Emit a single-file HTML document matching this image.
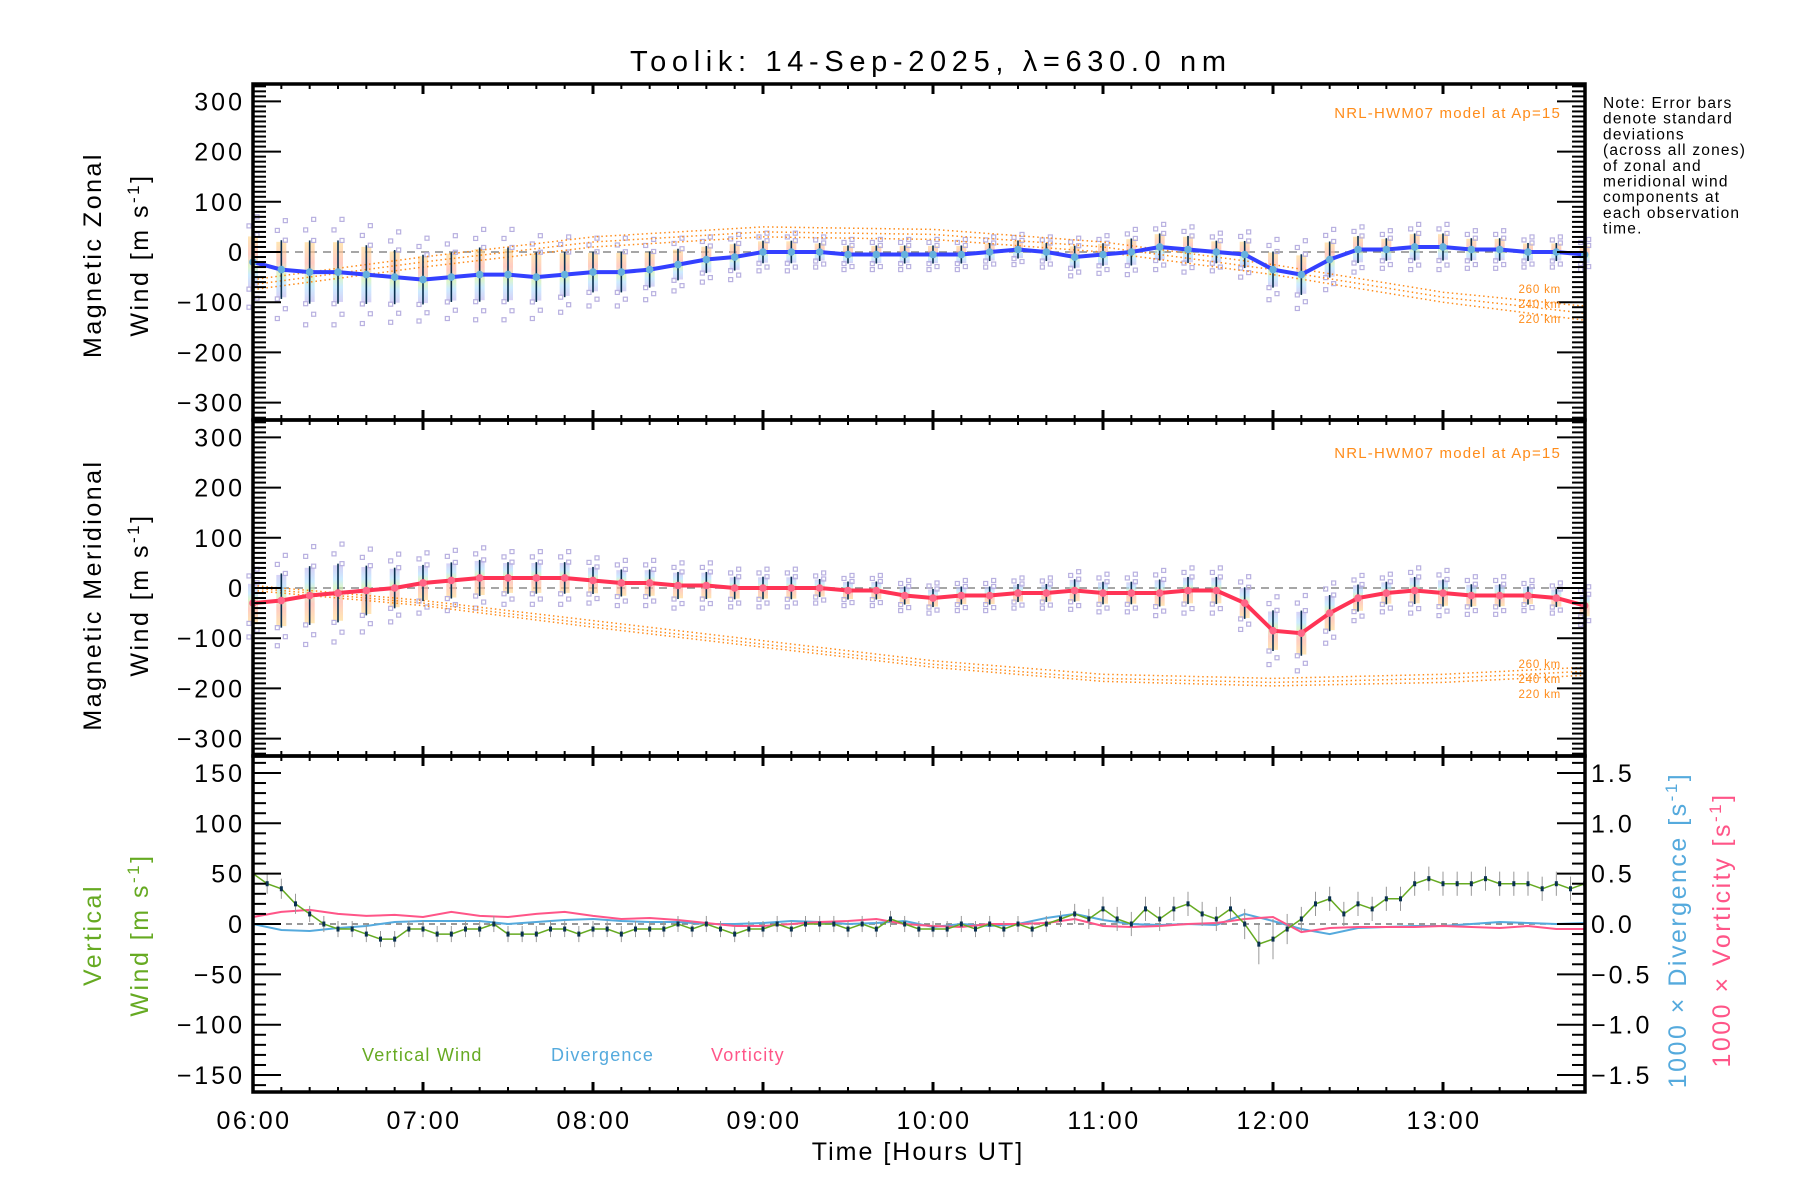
<!DOCTYPE html>
<html><head><meta charset="utf-8"><style>
html,body{margin:0;padding:0;background:#fff;}
svg{display:block;font-family:"Liberation Sans",sans-serif;}
</style></head><body>
<svg id="chart" width="1800" height="1200" viewBox="0 0 1800 1200" xmlns="http://www.w3.org/2000/svg">
<defs>
<linearGradient id="rb" x1="0" y1="0" x2="0" y2="1">
<stop offset="0" stop-color="#ffd88a"/><stop offset="0.35" stop-color="#ffb0a0"/><stop offset="0.6" stop-color="#c8f0b0"/><stop offset="0.75" stop-color="#b0e0ff"/><stop offset="1" stop-color="#c0b8f0"/>
</linearGradient>
<linearGradient id="rb2" x1="0" y1="1" x2="0" y2="0">
<stop offset="0" stop-color="#ffd88a"/><stop offset="0.35" stop-color="#ffb0a0"/><stop offset="0.6" stop-color="#c8f0b0"/><stop offset="0.75" stop-color="#b0e0ff"/><stop offset="1" stop-color="#c0b8f0"/>
</linearGradient>
</defs>
<text x="928" y="71" font-size="29" text-anchor="middle" textLength="596" lengthAdjust="spacing">Toolik: 14-Sep-2025, λ=630.0 nm</text>
<g id="g"></g>
<text font-size="15.5" x="1603" y="108" letter-spacing="1.2">
<tspan x="1603" dy="0">Note: Error bars</tspan><tspan x="1603" dy="15.7">denote standard</tspan><tspan x="1603" dy="15.7">deviations</tspan><tspan x="1603" dy="15.7">(across all zones)</tspan><tspan x="1603" dy="15.7">of zonal and</tspan><tspan x="1603" dy="15.7">meridional wind</tspan><tspan x="1603" dy="15.7">components at</tspan><tspan x="1603" dy="15.7">each observation</tspan><tspan x="1603" dy="15.7">time.</tspan></text>
<g letter-spacing="2.5">
<text font-size="25" transform="translate(101,255) rotate(-90)" text-anchor="middle">Magnetic Zonal</text>
<text font-size="25" transform="translate(148,255) rotate(-90)" text-anchor="middle">Wind [m s<tspan dy="-9" font-size="17">-1</tspan><tspan dy="9">]</tspan></text>
<text font-size="25" transform="translate(101,595) rotate(-90)" text-anchor="middle">Magnetic Meridional</text>
<text font-size="25" transform="translate(148,595) rotate(-90)" text-anchor="middle">Wind [m s<tspan dy="-9" font-size="17">-1</tspan><tspan dy="9">]</tspan></text>
<text font-size="25" fill="#66aa22" transform="translate(101,935) rotate(-90)" text-anchor="middle">Vertical</text>
<text font-size="25" fill="#66aa22" transform="translate(148,935) rotate(-90)" text-anchor="middle">Wind [m s<tspan dy="-9" font-size="17">-1</tspan><tspan dy="9">]</tspan></text>
<text font-size="25" fill="#55aadd" transform="translate(1686,930) rotate(-90)" text-anchor="middle">1000 × Divergence [s<tspan dy="-9" font-size="17">-1</tspan><tspan dy="9">]</tspan></text>
<text font-size="25" fill="#ff5588" transform="translate(1730,930) rotate(-90)" text-anchor="middle">1000 × Vorticity [s<tspan dy="-9" font-size="17">-1</tspan><tspan dy="9">]</tspan></text>
<text font-size="25" x="918" y="1160" text-anchor="middle" letter-spacing="2">Time [Hours UT]</text>
</g>
<g letter-spacing="1.2">
<text font-size="18" fill="#66aa22" x="362" y="1061">Vertical Wind</text>
<text font-size="18" fill="#55aadd" x="551" y="1061">Divergence</text>
<text font-size="18" fill="#ff5588" x="711" y="1061">Vorticity</text>
<text font-size="15" fill="#ff8c1a" x="1561" y="118" text-anchor="end">NRL-HWM07 model at Ap=15</text>
<text font-size="15" fill="#ff8c1a" x="1561" y="458" text-anchor="end">NRL-HWM07 model at Ap=15</text>
</g>
<g font-size="11.5" fill="#ff8c1a" text-anchor="end" letter-spacing="0.8">
<text x="1561" y="293">260 km</text>
<text x="1561" y="308">240 km</text>
<text x="1561" y="323">220 km</text>
<text x="1561" y="668">260 km</text>
<text x="1561" y="683">240 km</text>
<text x="1561" y="698">220 km</text>
</g>
</svg>
<script>
// ---- data (10-min steps from 06:00 UT) ----
const zonal = [-20,-35,-40,-40,-45,-50,-55,-50,-45,-45,-50,-45,-40,-40,-35,-25,-15,-10,0,0,0,-5,-5,-5,-5,-5,0,5,0,-10,-5,0,10,5,0,-5,-35,-45,-15,5,5,10,10,5,5,0,0,-5];
const zonalSd = [60,65,70,70,65,60,55,55,60,60,55,50,45,45,40,35,30,30,25,25,20,20,20,20,20,20,20,20,20,25,25,30,30,30,25,30,40,45,40,30,25,30,30,25,25,20,20,20];
const merid = [-30,-25,-15,-10,-5,0,10,15,20,20,20,20,15,10,10,5,5,0,0,0,0,-5,-5,-15,-20,-15,-15,-10,-10,-5,-10,-10,-10,-5,-5,-30,-85,-90,-50,-20,-10,-5,-10,-15,-15,-15,-20,-35];
const meridSd = [45,60,65,65,55,45,40,40,40,35,35,35,30,30,30,30,30,25,25,25,20,20,20,20,20,20,20,20,20,25,25,25,30,30,30,35,45,50,40,30,25,30,30,25,25,20,20,25];
// HWM model, hourly 06..14 UT
const hwmHours = [0,1,2,3,4,5,6,7,8];
const hwmZ260 = [-55,-10,30,50,45,20,-25,-80,-108];
const hwmZ240 = [-65,-20,20,40,35,10,-35,-90,-122];
const hwmZ220 = [-75,-30,10,30,25,0,-45,-100,-136];
const hwmM260 = [5,-25,-65,-105,-145,-172,-180,-172,-158];
const hwmM240 = [0,-30,-72,-112,-152,-180,-188,-180,-166];
const hwmM220 = [-5,-35,-78,-118,-158,-186,-195,-188,-174];
// vertical wind, 5-min steps
const vert = [50,40,35,20,10,0,-5,-5,-10,-15,-15,-5,-5,-10,-10,-5,-5,0,-10,-10,-10,-5,-5,-10,-5,-5,-10,-5,-5,-5,0,-5,0,-5,-10,-5,-5,0,-5,0,0,0,-5,0,-5,5,0,-5,-5,-5,0,-5,0,-5,0,-5,0,5,10,5,15,5,0,15,5,15,20,10,5,15,0,-20,-15,-5,5,20,25,10,20,15,25,25,40,45,40,40,40,45,40,40,40,35,40,35,40];
const vertSd = [10,10,10,10,8,8,8,8,8,8,8,8,8,8,8,8,8,8,8,8,8,8,8,8,8,8,8,8,8,8,8,8,8,8,8,8,8,8,8,8,8,8,8,8,8,8,8,8,8,8,8,8,8,8,8,8,8,8,10,10,12,12,12,12,12,12,12,12,12,12,15,20,20,15,12,12,12,12,12,12,12,12,12,12,12,12,12,12,12,12,12,12,12,12,12];
// divergence & vorticity (x1000), 10-min steps
const diverg = [0,-0.06,-0.07,-0.04,-0.02,0.02,0.03,0.03,0.03,0.0,0.02,0.04,0.05,0.03,0.02,0.02,0.0,0.0,0.01,0.03,0.02,0.0,0.01,0.03,-0.03,0.0,-0.02,0.0,0.06,0.1,0.04,0.0,-0.01,0.0,-0.01,0.1,0.03,-0.05,-0.1,-0.04,-0.03,-0.02,-0.02,0.0,0.02,0.01,0.0,0.01];
const vortic = [0.07,0.12,0.14,0.1,0.08,0.09,0.07,0.12,0.08,0.07,0.1,0.12,0.08,0.05,0.06,0.04,0.01,-0.02,-0.02,0.0,0.02,0.03,0.05,0.0,-0.02,-0.03,0.0,0.0,0.01,0.05,-0.02,-0.03,-0.02,0.0,0.01,0.05,0.07,-0.08,-0.04,-0.03,-0.03,-0.03,-0.02,-0.03,-0.04,-0.02,-0.05,-0.05];
const xTickLabels = ["06:00","07:00","08:00","09:00","10:00","11:00","12:00","13:00"];
const windTicks = [300,200,100,0,-100,-200,-300];
const vertTicks = [150,100,50,0,-50,-100,-150];
const rightTicks = [1.5,1.0,0.5,0.0,-0.5,-1.0,-1.5];

// ---- axes ----
const L=253, R=1585, HR=170;
const X = h => L + h*HR;
const Y1 = v => 252 - v*0.502;
const Y2 = v => 588 - v*0.502;
const Y3 = v => 924 - v*1.007;
const YR = v => 924 - v*100.7;
const NS='http://www.w3.org/2000/svg';
const G=document.getElementById('g');
function mk(tag, attrs, parent){const e=document.createElementNS(NS,tag);for(const k in attrs)e.setAttribute(k,attrs[k]);(parent||G).appendChild(e);return e;}
function path(pts){return pts.map((p,i)=>(i?'L':'M')+p[0].toFixed(1)+' '+p[1].toFixed(1)).join(' ');}
function cx(x){return Math.min(x,R);}

function windPanel(vals, sds, Y, lineCol, dotCol, hw, nm, grad){
  const g=mk('g',{});
  
  
  const z=mk('line',{x1:L,x2:R,y1:Y(0),y2:Y(0),stroke:'#888','stroke-width':1.5,'stroke-dasharray':'8 6'},g);
  
  
  vals.forEach((v,i)=>{
    const x=X(i/6), s=sds[i];
    const r=mk('rect',{x:x-5,y:Y(v+s*0.85),width:10,height:Y(v-s*0.85)-Y(v+s*0.85),fill:grad,opacity:0.65},g);
    
    
    [-1.5,-1.2,-0.9,0.9,1.2,1.5].forEach((f,k)=>{
      const q=mk('rect',{x:x-2+(k%2?4:-4),y:Y(v+s*f)-2,width:4,height:4,fill:'none',stroke:'#b8b0e0','stroke-width':1.2},g);
      
      
    });
  });
  hw.forEach((arr,k)=>{
    const p=mk('path',{d:path(hwmHours.map((h,i)=>[cx(X(h)),Y(arr[i])])),fill:'none',stroke:'#ff8c1a','stroke-width':1.5,'stroke-dasharray':'1.5 3'},g);
    
    
  });
  vals.forEach((v,i)=>{
    const x=X(i/6), s=sds[i];
    const e=mk('line',{x1:x,x2:x,y1:Y(v+s*0.9),y2:Y(v-s*0.9),stroke:'#0a3050','stroke-width':1.6},g);
    
    
  });
  const ln=mk('path',{d:path(vals.map((v,i)=>[X(i/6),Y(v)])),fill:'none',stroke:lineCol,'stroke-width':4},g);
  
  
  vals.forEach((v,i)=>{
    const c=mk('circle',{cx:X(i/6),cy:Y(v),r:3.8,fill:dotCol},g);
    
    
  });
}
windPanel(zonal, zonalSd, Y1, '#3340ff', '#66b0dd', [hwmZ260,hwmZ240,hwmZ220], 'zonal', 'url(#rb)');
windPanel(merid, meridSd, Y2, '#ff3355', '#ff6688', [hwmM260,hwmM240,hwmM220], 'meridional', 'url(#rb2)');

// panel 3
const z3=mk('line',{x1:L,x2:R,y1:Y3(0),y2:Y3(0),stroke:'#777','stroke-width':1.5,'stroke-dasharray':'6 5'});


const dv=mk('path',{d:path(diverg.map((v,i)=>[X(i/6),YR(v)])),fill:'none',stroke:'#55aadd','stroke-width':2});


const vo=mk('path',{d:path(vortic.map((v,i)=>[X(i/6),YR(v)])),fill:'none',stroke:'#ff5588','stroke-width':2});


vert.forEach((v,i)=>{
  const x=X(i/12);
  const e=mk('line',{x1:x,x2:x,y1:Y3(v+vertSd[i]),y2:Y3(v-vertSd[i]),stroke:'#999','stroke-width':1});
  
  
});
const vl=mk('path',{d:path(vert.map((v,i)=>[X(i/12),Y3(v)])),fill:'none',stroke:'#66aa22','stroke-width':1.5});


vert.forEach((v,i)=>{
  const c=mk('rect',{x:X(i/12)-1.5,y:Y3(v)-2.5,width:3,height:5,fill:'#0a3050'});
  
  
});

// frames & ticks
const ax=mk('g',{stroke:'#000','stroke-width':2});


function ln2(x1,y1,x2,y2,w){mk('line',{x1,y1,x2,y2,'stroke-width':w||2},ax);}
[[84,420],[420,756],[756,1092]].forEach(([t,b])=>{
  mk('rect',{x:L,y:t,width:R-L,height:b-t,fill:'none','stroke-width':3.5},ax);
});
[84,420,756,1092].forEach(y=>{
  for(let m=0;m<=480;m+=10){
    const x=X(m/60); if(x>R-2)break;
    const major=m%60===0;
    const len=major?10:5;
    if(y>84) ln2(x,y,x,y-len,major?3:2);
    if(y<1092) ln2(x,y,x,y+len,major?3:2);
  }
});
[[Y1,84,420],[Y2,420,756]].forEach(([Y,t,b])=>{
  for(let v=-330;v<=330;v+=10){
    const y=Y(v); if(y<t+2||y>b-2)continue;
    const major=v%100===0;
    ln2(L,y,L+(major?28:13),y);
    ln2(R,y,R-(major?28:13),y);
  }
});
for(let v=-160;v<=160;v+=10){const y=Y3(v); if(y<758||y>1090)continue; ln2(L,y,L+(v%50===0?28:13),y);}
for(let v=-16;v<=16;v+=1){const y=YR(v/10); if(y<758||y>1090)continue; ln2(R,y,R-(v%5===0?28:13),y);}

// tick labels
const tl=mk('g',{'font-size':25,fill:'#000','letter-spacing':3});


windTicks.forEach(v=>{
  [Y1,Y2].forEach(Y=>{
    const t=mk('text',{x:L-8,y:Y(v)+9,'text-anchor':'end'},tl); t.textContent=(v<0?'−':'')+Math.abs(v);
    
    
  });
});
vertTicks.forEach(v=>{
  const t=mk('text',{x:L-8,y:Y3(v)+9,'text-anchor':'end'},tl); t.textContent=(v<0?'−':'')+Math.abs(v);
  
  
});
rightTicks.forEach(v=>{
  const t=mk('text',{x:R+6,y:YR(v)+9},tl); t.textContent=(v<0?'−':'')+Math.abs(v).toFixed(1);
  
  
});
xTickLabels.forEach((s,i)=>{
  const t=mk('text',{x:X(i)+1,y:1129,'text-anchor':'middle','letter-spacing':2.5},tl); t.textContent=s;
  
  
});
</script>
</body></html>
